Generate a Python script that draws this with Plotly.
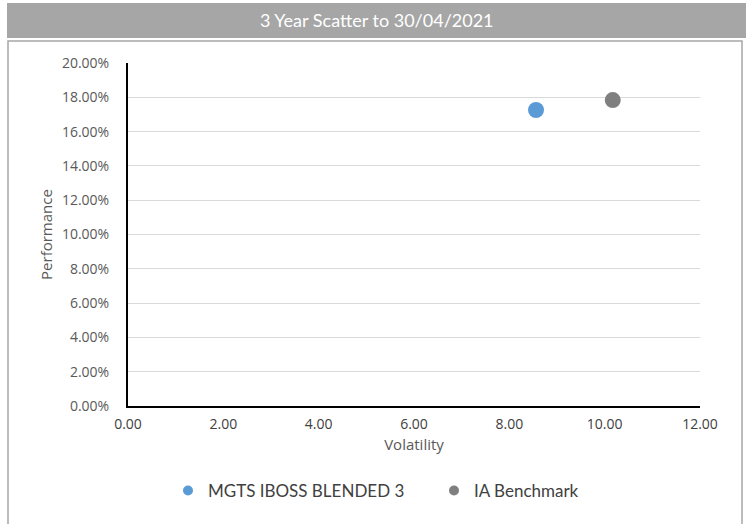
import plotly.graph_objects as go

series_names = ["MGTS IBOSS BLENDED 3", "IA Benchmark"]
volatility = [8.56, 10.17]
performance = [0.1726, 0.1784]
colors = ["#5b9bd5", "#7f7f7f"]

W, H = 746, 524
fig = go.Figure()
for name, x, y, c in zip(series_names, volatility, performance, colors):
    fig.add_trace(go.Scatter(x=[x], y=[y], mode="markers", name=name, showlegend=False,
                             marker=dict(color=c, size=16)))
for name, c in zip(series_names, colors):
    fig.add_trace(go.Scatter(x=[None], y=[None], mode="markers", name=name,
                             marker=dict(color=c, size=10)))

left, right, top, bottom = 128, 46, 63, 118
pw, ph = W - left - right, H - top - bottom

def px_x(p):
    return (p - left) / pw

def px_y(p):
    return (H - bottom - p) / ph

fig.update_layout(
    width=W, height=H,
    margin=dict(l=left, r=right, t=top, b=bottom),
    paper_bgcolor="white", plot_bgcolor="white",
    showlegend=True,
    legend=dict(orientation="h", x=px_x(168), xanchor="left", y=px_y(491), yanchor="middle",
                font=dict(family="Lato, Open Sans", size=17, color="#404040"),
                itemwidth=30, entrywidth=221, entrywidthmode="pixels"),
    xaxis=dict(range=[0, 12], dtick=2, tickformat=".2f", showgrid=False,
               showline=True, linecolor="black", linewidth=2, zeroline=False,
               ticks="", ticklabelstandoff=4,
               tickfont=dict(family="Open Sans", size=14, color="#404040"),
               title=dict(text="Volatility", standoff=8,
                          font=dict(family="Open Sans", size=15, color="#595959"))),
    yaxis=dict(range=[0, 0.20], dtick=0.02, tickformat=".2%", showgrid=True,
               gridcolor="#d9d9d9", gridwidth=1, showline=True, linecolor="black",
               linewidth=2, zeroline=False, ticks="", ticklabelstandoff=14,
               tickfont=dict(family="Open Sans", size=14, color="#595959"),
               title=dict(text="Performance", standoff=6,
                          font=dict(family="Open Sans", size=15, color="#595959"))),
    shapes=[
        dict(type="rect", xref="paper", yref="paper", x0=px_x(7), x1=px_x(746),
             y0=px_y(38), y1=px_y(3), fillcolor="#a6a6a6", line=dict(width=0), layer="below"),
        dict(type="rect", xref="paper", yref="paper", x0=px_x(8), x1=px_x(742),
             y0=px_y(530), y1=px_y(41), fillcolor="rgba(0,0,0,0)",
             line=dict(color="#a6a6a6", width=1.5), layer="below"),
    ],
    annotations=[
        dict(text="3 Year Scatter to 30/04/2021", xref="paper", yref="paper",
             x=px_x(377), y=px_y(20), xanchor="center", yanchor="middle", showarrow=False,
             font=dict(family="Lato, Open Sans", size=18, color="white")),
    ],
)

fig.write_html("out.html", config={"displayModeBar": False},
               post_script="document.body.style.margin='0';")
